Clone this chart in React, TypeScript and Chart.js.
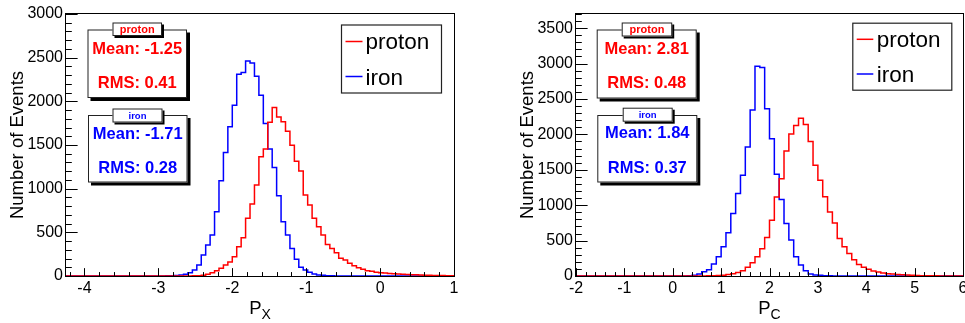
import React, { useEffect, useRef } from "react";
import { Chart, registerables } from "chart.js";

Chart.register(...registerables);

const FONT = '"Liberation Sans", Arial, Helvetica, sans-serif';
const RED = "#ff0000";
const BLUE = "#0000ff";

const seriesLabels = ["proton", "iron"];
const yAxisTitle = "Number of Events";

// ---------- left panel : P_X ----------
const pxBinStart = -4.28;
const pxBinWidth = 0.06;
const pxProton = [
  0, 0, 0, 0, 0, 0, 0, 0, 0, 0, 0, 0, 0, 0, 0, 0, 0, 0, 0, 0, 0, 0, 0, 0, 0, 0, 0, 0, 0, 0,
  2, 4, 8, 19, 38, 61, 88, 126, 160, 221, 336, 438, 660, 824, 1041, 1365, 1455, 1760, 1929, 1822,
  1765, 1658, 1498, 1315, 1201, 927, 812, 660, 564, 469, 362, 316, 267, 202, 183, 145, 118, 95, 76, 61,
  53, 42, 38, 34, 30, 27, 23, 19, 17, 15, 13, 11, 10, 9, 7, 6, 5, 4,
];
const pxIron = [
  0, 0, 0, 0, 0, 0, 0, 0, 0, 0, 0, 0, 0, 0, 0, 0, 0, 0, 0, 0, 0, 0, 0,
  1, 2, 4, 7, 12, 20, 38, 69, 126, 240, 355, 469, 736, 1091, 1415, 1708, 1956, 2311, 2330, 2463,
  2440, 2288, 2070, 1746, 1453, 1243, 919, 622, 469, 316, 191, 99, 69, 42, 23, 11, 8, 4, 2, 1,
  0, 0, 0, 0, 0, 0, 0, 0, 0, 0, 0, 0, 0, 0, 0, 0, 0, 0, 0, 0, 0, 0, 0, 0, 0,
];
const pxXTicks = [-4, -3, -2, -1, 0, 1];
const pxYTicks = [0, 500, 1000, 1500, 2000, 2500, 3000];
const pxProtonStats = ["Mean: -1.25", "RMS: 0.41"];
const pxIronStats = ["Mean: -1.71", "RMS: 0.28"];

// ---------- right panel : P_C ----------
const pcBinStart = -2;
const pcBinWidth = 0.1;
const pcProton = [
  0, 0, 0, 0, 0, 0, 0, 0, 0, 0, 0, 0, 0, 0, 0, 0, 0, 0, 0, 0, 0, 0, 0, 0, 0, 0, 0, 0,
  3, 5, 8, 12, 20, 33, 50, 75, 122, 188, 272, 385, 544, 788, 1117, 1375, 1765, 2004, 2126, 2229,
  2141, 1900, 1563, 1352, 1120, 903, 750, 530, 413, 319, 230, 162, 125, 95, 72, 56, 42, 33, 27, 22,
  17, 13, 10, 7, 5, 4, 3, 2, 1, 0, 0, 0,
];
const pcIron = [
  0, 0, 0, 0, 0, 0, 0, 0, 0, 0, 0, 0, 0, 0, 0, 0, 0, 0, 0, 0, 0, 0, 0, 0,
  5, 12, 28, 61, 88, 169, 272, 413, 610, 882, 1164, 1422, 1821, 2345, 2961, 2943, 2362, 1940, 1436, 1079,
  742, 507, 272, 155, 75, 28, 14, 9, 5, 2,
  0, 0, 0, 0, 0, 0, 0, 0, 0, 0, 0, 0, 0, 0, 0, 0, 0, 0, 0, 0, 0, 0, 0, 0, 0, 0,
];
const pcXTicks = [-2, -1, 0, 1, 2, 3, 4, 5, 6];
const pcYTicks = [0, 500, 1000, 1500, 2000, 2500, 3000, 3500];
const pcProtonStats = ["Mean: 2.81", "RMS: 0.48"];
const pcIronStats = ["Mean: 1.84", "RMS: 0.37"];

type Box = { x: number; y: number; w: number; h: number };
type PanelCfg = {
  left: number;
  width: number;
  padLeft: number;
  padRight: number;
  binStart: number;
  binWidth: number;
  proton: number[];
  iron: number[];
  xMin: number;
  xMax: number;
  yMax: number;
  xTicks: number[];
  yTicks: number[];
  xMinor: number;
  yMinor: number;
  xTitle: string;
  xSub: string;
  protonStats: string[];
  ironStats: string[];
  protonBox: Box;
  protonTab: Box;
  ironBox: Box;
  ironTab: Box;
  protonBase: number[]; // tab, mean, rms baselines
  ironBase: number[];
  legend: Box;
  legendLineX: number[];
  legendLineY: number[];
  legendTextX: number;
  legendBase: number[];
};

const panels: PanelCfg[] = [
  {
    left: 0,
    width: 482,
    padLeft: 0,
    padRight: 28,
    binStart: pxBinStart,
    binWidth: pxBinWidth,
    proton: pxProton,
    iron: pxIron,
    xMin: -4.25,
    xMax: 1,
    yMax: 3000,
    xTicks: pxXTicks,
    yTicks: pxYTicks,
    xMinor: 0.2,
    yMinor: 100,
    xTitle: "P",
    xSub: "X",
    protonStats: pxProtonStats,
    ironStats: pxIronStats,
    protonBox: { x: 87.5, y: 29.5, w: 99.5, h: 68.5 },
    protonTab: { x: 112.5, y: 22.5, w: 49.5, h: 13.5 },
    ironBox: { x: 88, y: 115, w: 99.5, h: 67.5 },
    ironTab: { x: 112.5, y: 108.5, w: 50, h: 14 },
    protonBase: [33, 54, 87.5],
    ironBase: [118.5, 138.5, 172.5],
    legend: { x: 341, y: 24.5, w: 101, h: 69 },
    legendLineX: [345.5, 362.5],
    legendLineY: [41.5, 76.5],
    legendTextX: 365.5,
    legendBase: [48.5, 85],
  },
  {
    left: 482,
    width: 483,
    padLeft: 28,
    padRight: 2,
    binStart: pcBinStart,
    binWidth: pcBinWidth,
    proton: pcProton,
    iron: pcIron,
    xMin: -2,
    xMax: 6,
    yMax: 3700,
    xTicks: pcXTicks,
    yTicks: pcYTicks,
    xMinor: 0.2,
    yMinor: 100,
    xTitle: "P",
    xSub: "C",
    protonStats: pcProtonStats,
    ironStats: pcIronStats,
    protonBox: { x: 114.7, y: 29.5, w: 100, h: 69 },
    protonTab: { x: 139.7, y: 22.5, w: 50.5, h: 14 },
    ironBox: { x: 115.3, y: 115, w: 100, h: 67.5 },
    ironTab: { x: 140.7, y: 107.7, w: 50, h: 14 },
    protonBase: [33, 54.3, 88],
    ironBase: [118, 138.3, 173],
    legend: { x: 370.3, y: 22.7, w: 100, h: 68 },
    legendLineX: [374.7, 391.3],
    legendLineY: [39.3, 74],
    legendTextX: 394.7,
    legendBase: [46.7, 81.7],
  },
];

function histPoints(start: number, width: number, counts: number[]) {
  const pts = counts.map((c, i) => ({ x: start + i * width, y: c }));
  pts.push({ x: start + counts.length * width, y: counts[counts.length - 1] });
  return pts;
}

function snap(v: number) {
  return Math.round(v) + 0.5;
}

function drawPave(ctx: CanvasRenderingContext2D, b: Box, shadow: number) {
  ctx.fillStyle = "#000";
  ctx.fillRect(b.x + shadow, b.y + shadow, b.w, b.h);
  ctx.fillStyle = "#fff";
  ctx.fillRect(b.x, b.y, b.w, b.h);
  ctx.strokeStyle = "#222";
  ctx.lineWidth = 1;
  ctx.strokeRect(b.x + 0.5, b.y + 0.5, b.w - 1, b.h - 1);
}

function drawOverlay(chart: any, cfg: PanelCfg) {
  const ctx: CanvasRenderingContext2D = chart.ctx;
  const { left, right, top, bottom } = chart.chartArea;
  const xs = chart.scales.x;
  const ys = chart.scales.y;
  ctx.save();

  // frame
  ctx.strokeStyle = "#000";
  ctx.lineWidth = 1;
  ctx.strokeRect(snap(left) - 1, snap(top) - 1, Math.round(right - left) + 1, Math.round(bottom - top) + 1);

  // ticks (inside the frame, ROOT style)
  const xLen = 0.03 * (bottom - top);
  const yLen = 0.03 * (right - left);
  ctx.beginPath();
  const bx = Math.round(bottom);
  for (let n = Math.ceil(cfg.xMin / cfg.xMinor - 1e-6); n * cfg.xMinor <= cfg.xMax + 1e-6; n++) {
    const v = n * cfg.xMinor;
    const isMajor = cfg.xTicks.some((t) => Math.abs(t - v) < 1e-6);
    const px = snap(xs.getPixelForValue(v));
    ctx.moveTo(px, bx);
    ctx.lineTo(px, bx - (isMajor ? xLen : xLen / 2));
  }
  const lx = Math.round(left);
  for (let n = 0; n * cfg.yMinor <= cfg.yMax + 1e-6; n++) {
    const v = n * cfg.yMinor;
    const isMajor = cfg.yTicks.includes(v);
    const py = snap(ys.getPixelForValue(v));
    ctx.moveTo(lx, py);
    ctx.lineTo(lx + (isMajor ? yLen : yLen / 2), py);
  }
  ctx.stroke();

  // x axis title with subscript
  ctx.fillStyle = "#000";
  ctx.textBaseline = "alphabetic";
  ctx.textAlign = "left";
  const mainFont = `18.5px ${FONT}`;
  const subFont = `14px ${FONT}`;
  ctx.font = mainFont;
  const wMain = ctx.measureText(cfg.xTitle).width;
  ctx.font = subFont;
  const wSub = ctx.measureText(cfg.xSub).width;
  const cx = (left + right) / 2;
  const x0 = cx - (wMain + wSub) / 2;
  ctx.font = mainFont;
  ctx.fillText(cfg.xTitle, x0, 313.5);
  ctx.font = subFont;
  ctx.fillText(cfg.xSub, x0 + wMain, 318.5);

  // stat boxes
  const stat = (box: Box, tab: Box, base: number[], title: string, lines: string[], color: string, tabSize: number) => {
    drawPave(ctx, box, 3);
    drawPave(ctx, tab, 2);
    ctx.fillStyle = color;
    ctx.textAlign = "center";
    ctx.textBaseline = "alphabetic";
    ctx.font = `bold ${tabSize}px ${FONT}`;
    ctx.fillText(title, tab.x + tab.w / 2, base[0]);
    ctx.font = `bold 16.5px ${FONT}`;
    ctx.fillText(lines[0], box.x + box.w / 2, base[1]);
    ctx.fillText(lines[1], box.x + box.w / 2, base[2]);
  };
  stat(cfg.protonBox, cfg.protonTab, cfg.protonBase, seriesLabels[0], cfg.protonStats, RED, 11);
  stat(cfg.ironBox, cfg.ironTab, cfg.ironBase, seriesLabels[1], cfg.ironStats, BLUE, 9.5);

  // legend
  const lg = cfg.legend;
  ctx.fillStyle = "#fff";
  ctx.fillRect(lg.x, lg.y, lg.w, lg.h);
  ctx.strokeStyle = "#222";
  ctx.lineWidth = 1.2;
  ctx.strokeRect(lg.x + 0.5, lg.y + 0.5, lg.w - 1, lg.h - 1);
  const colors = [RED, BLUE];
  seriesLabels.forEach((name, i) => {
    ctx.strokeStyle = colors[i];
    ctx.lineWidth = 1.5;
    ctx.beginPath();
    ctx.moveTo(cfg.legendLineX[0], cfg.legendLineY[i]);
    ctx.lineTo(cfg.legendLineX[1], cfg.legendLineY[i]);
    ctx.stroke();
    ctx.fillStyle = "#000";
    ctx.textAlign = "left";
    ctx.textBaseline = "alphabetic";
    ctx.font = `22.5px ${FONT}`;
    ctx.fillText(name, cfg.legendTextX, cfg.legendBase[i]);
  });

  ctx.restore();
}

function Panel({ cfg }: { cfg: PanelCfg }) {
  const ref = useRef<HTMLCanvasElement>(null);
  useEffect(() => {
    const canvas = ref.current;
    if (!canvas) return;
    const overlay = {
      id: "rootStyle",
      afterDatasetsDraw(chart: any) {
        drawOverlay(chart, cfg);
      },
    };
    const chart = new Chart(canvas, {
      type: "line",
      data: {
        datasets: [
          {
            label: seriesLabels[0],
            data: histPoints(cfg.binStart, cfg.binWidth, cfg.proton),
            borderColor: RED,
            borderWidth: 1.5,
            pointRadius: 0,
            pointHitRadius: 0,
            stepped: "after",
            fill: false,
            tension: 0,
          },
          {
            label: seriesLabels[1],
            data: histPoints(cfg.binStart, cfg.binWidth, cfg.iron),
            borderColor: BLUE,
            borderWidth: 1.5,
            pointRadius: 0,
            pointHitRadius: 0,
            stepped: "after",
            fill: false,
            tension: 0,
          },
        ],
      },
      options: {
        responsive: false,
        animation: false,
        devicePixelRatio: 1,
        events: [],
        layout: { padding: { left: cfg.padLeft, right: cfg.padRight, top: 14, bottom: 0 } },
        plugins: { legend: { display: false }, tooltip: { enabled: false } },
        scales: {
          x: {
            type: "linear",
            min: cfg.xMin,
            max: cfg.xMax,
            grid: { display: false, drawTicks: false },
            border: { display: false },
            ticks: {
              color: "#000",
              font: { family: FONT, size: 16 },
              padding: 3,
              autoSkip: false,
              maxRotation: 0,
              callback: (v: any) => String(v),
            },
            afterBuildTicks: (s: any) => {
              s.ticks = cfg.xTicks.map((v) => ({ value: v }));
            },
            afterFit: (s: any) => {
              s.height = 47;
              s.paddingLeft = 0;
              s.paddingRight = 0;
            },
          },
          y: {
            type: "linear",
            min: 0,
            max: cfg.yMax,
            grid: { display: false, drawTicks: false },
            border: { display: false },
            ticks: {
              color: "#000",
              font: { family: FONT, size: 16 },
              padding: 3,
              autoSkip: false,
              callback: (v: any) => String(v),
            },
            afterBuildTicks: (s: any) => {
              s.ticks = cfg.yTicks.map((v) => ({ value: v }));
            },
            title: {
              display: true,
              text: yAxisTitle,
              color: "#000",
              font: { family: FONT, size: 18.5 },
              padding: { top: 7, bottom: 0 },
            },
            afterFit: (s: any) => {
              s.width = 66;
              s.paddingTop = 0;
              s.paddingBottom = 0;
            },
          },
        },
      } as any,
      plugins: [overlay],
    });
    return () => chart.destroy();
  }, [cfg]);
  return (
    <canvas
      ref={ref}
      width={cfg.width}
      height={323}
      style={{ position: "absolute", left: cfg.left, top: 0, width: cfg.width, height: 323 }}
    />
  );
}

export default function App() {
  return (
    <div style={{ position: "absolute", left: 0, top: 0, width: 965, height: 323, background: "#fff", overflow: "hidden" }}>
      {panels.map((p, i) => (
        <Panel key={i} cfg={p} />
      ))}
    </div>
  );
}
